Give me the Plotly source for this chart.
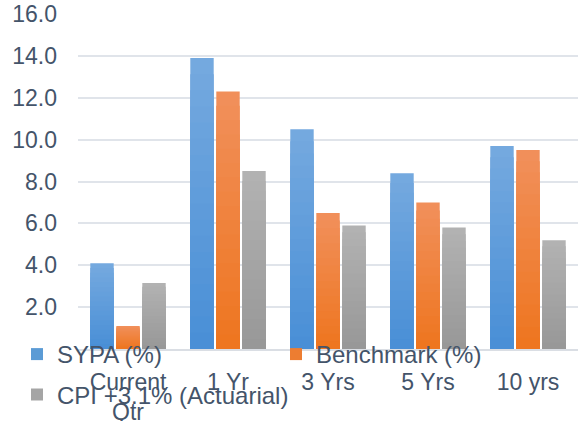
import plotly.graph_objects as go

categories = ["Current<br>Qtr", "1 Yr", "3 Yrs", "5 Yrs", "10 yrs"]
sypa = [4.1, 13.9, 10.5, 8.4, 9.7]
benchmark = [1.1, 12.3, 6.5, 7.0, 9.5]
cpi = [3.15, 8.5, 5.9, 5.8, 5.2]
series_names = ["SYPA (%)", "Benchmark (%)", "CPI +3.1% (Actuarial)"]
y_ticks = [2, 4, 6, 8, 10, 12, 14, 16]

# gradient colours (top, bottom) per series
grad = [((0x74, 0xA9, 0xDF), (0x4A, 0x8F, 0xD6)),
        ((0xF1, 0x8F, 0x5A), (0xEE, 0x76, 0x20)),
        ((0xB2, 0xB2, 0xB2), (0x98, 0x98, 0x98))]
legend_cols = ["#5B9BD5", "#ED7D31", "#A5A5A5"]
legends = ["legend", "legend2", "legend3"]
legend_pos = [(17.0, 354.5), (276.0, 354.5), (17.0, 395.0)]

N = 18
fig = go.Figure()
for si, (name, vals) in enumerate(zip(series_names, [sypa, benchmark, cpi])):
    top, bot = grad[si]
    for k in range(N):
        t = k / (N - 1)
        c = tuple(round(top[j] + (bot[j] - top[j]) * t) for j in range(3))
        col = "rgb(%d,%d,%d)" % c
        frac = (N - k) / N
        fig.add_trace(go.Bar(
            x=categories, y=[v * frac for v in vals],
            offsetgroup=str(si), marker=dict(color=col, line=dict(width=0)),
            name=name, showlegend=False, hoverinfo="skip"))
    # legend entry
    fig.add_trace(go.Bar(
        x=categories, y=[0] * len(vals), offsetgroup=str(si),
        marker=dict(color=legend_cols[si], line=dict(width=0)),
        name=name, showlegend=True, legend=legends[si], hoverinfo="skip"))

font = dict(family="Liberation Sans, Arial, sans-serif", size=23, color="#44546A")
lfont = dict(family="Liberation Sans, Arial, sans-serif", size=24, color="#44546A")
layout_legends = {}
for lg, (px, py) in zip(legends, legend_pos):
    layout_legends[lg] = dict(orientation="h", xref="container", yref="container",
                              x=px / 586, y=1 - py / 421, xanchor="left", yanchor="middle",
                              bgcolor="rgba(0,0,0,0)", font=lfont, itemclick=False)
fig.update_layout(
    width=586, height=421,
    margin=dict(l=78, r=8, t=14, b=72, autoexpand=False),
    plot_bgcolor="white", paper_bgcolor="white",
    barmode="group", bargap=0.22, bargroupgap=0.1,
    font=font,
    **layout_legends,
)
fig.update_yaxes(range=[0, 16], tickvals=y_ticks, tickformat=".1f",
                 showgrid=True, gridcolor="#E0E4EA", gridwidth=2,
                 zeroline=False, ticks="", ticklabelstandoff=20,
                 tickfont=font)
fig.update_xaxes(showline=True, linecolor="#DADEE4", linewidth=2,
                 ticks="", ticklabelstandoff=11, tickfont=font)

fig.write_html("out.html")
